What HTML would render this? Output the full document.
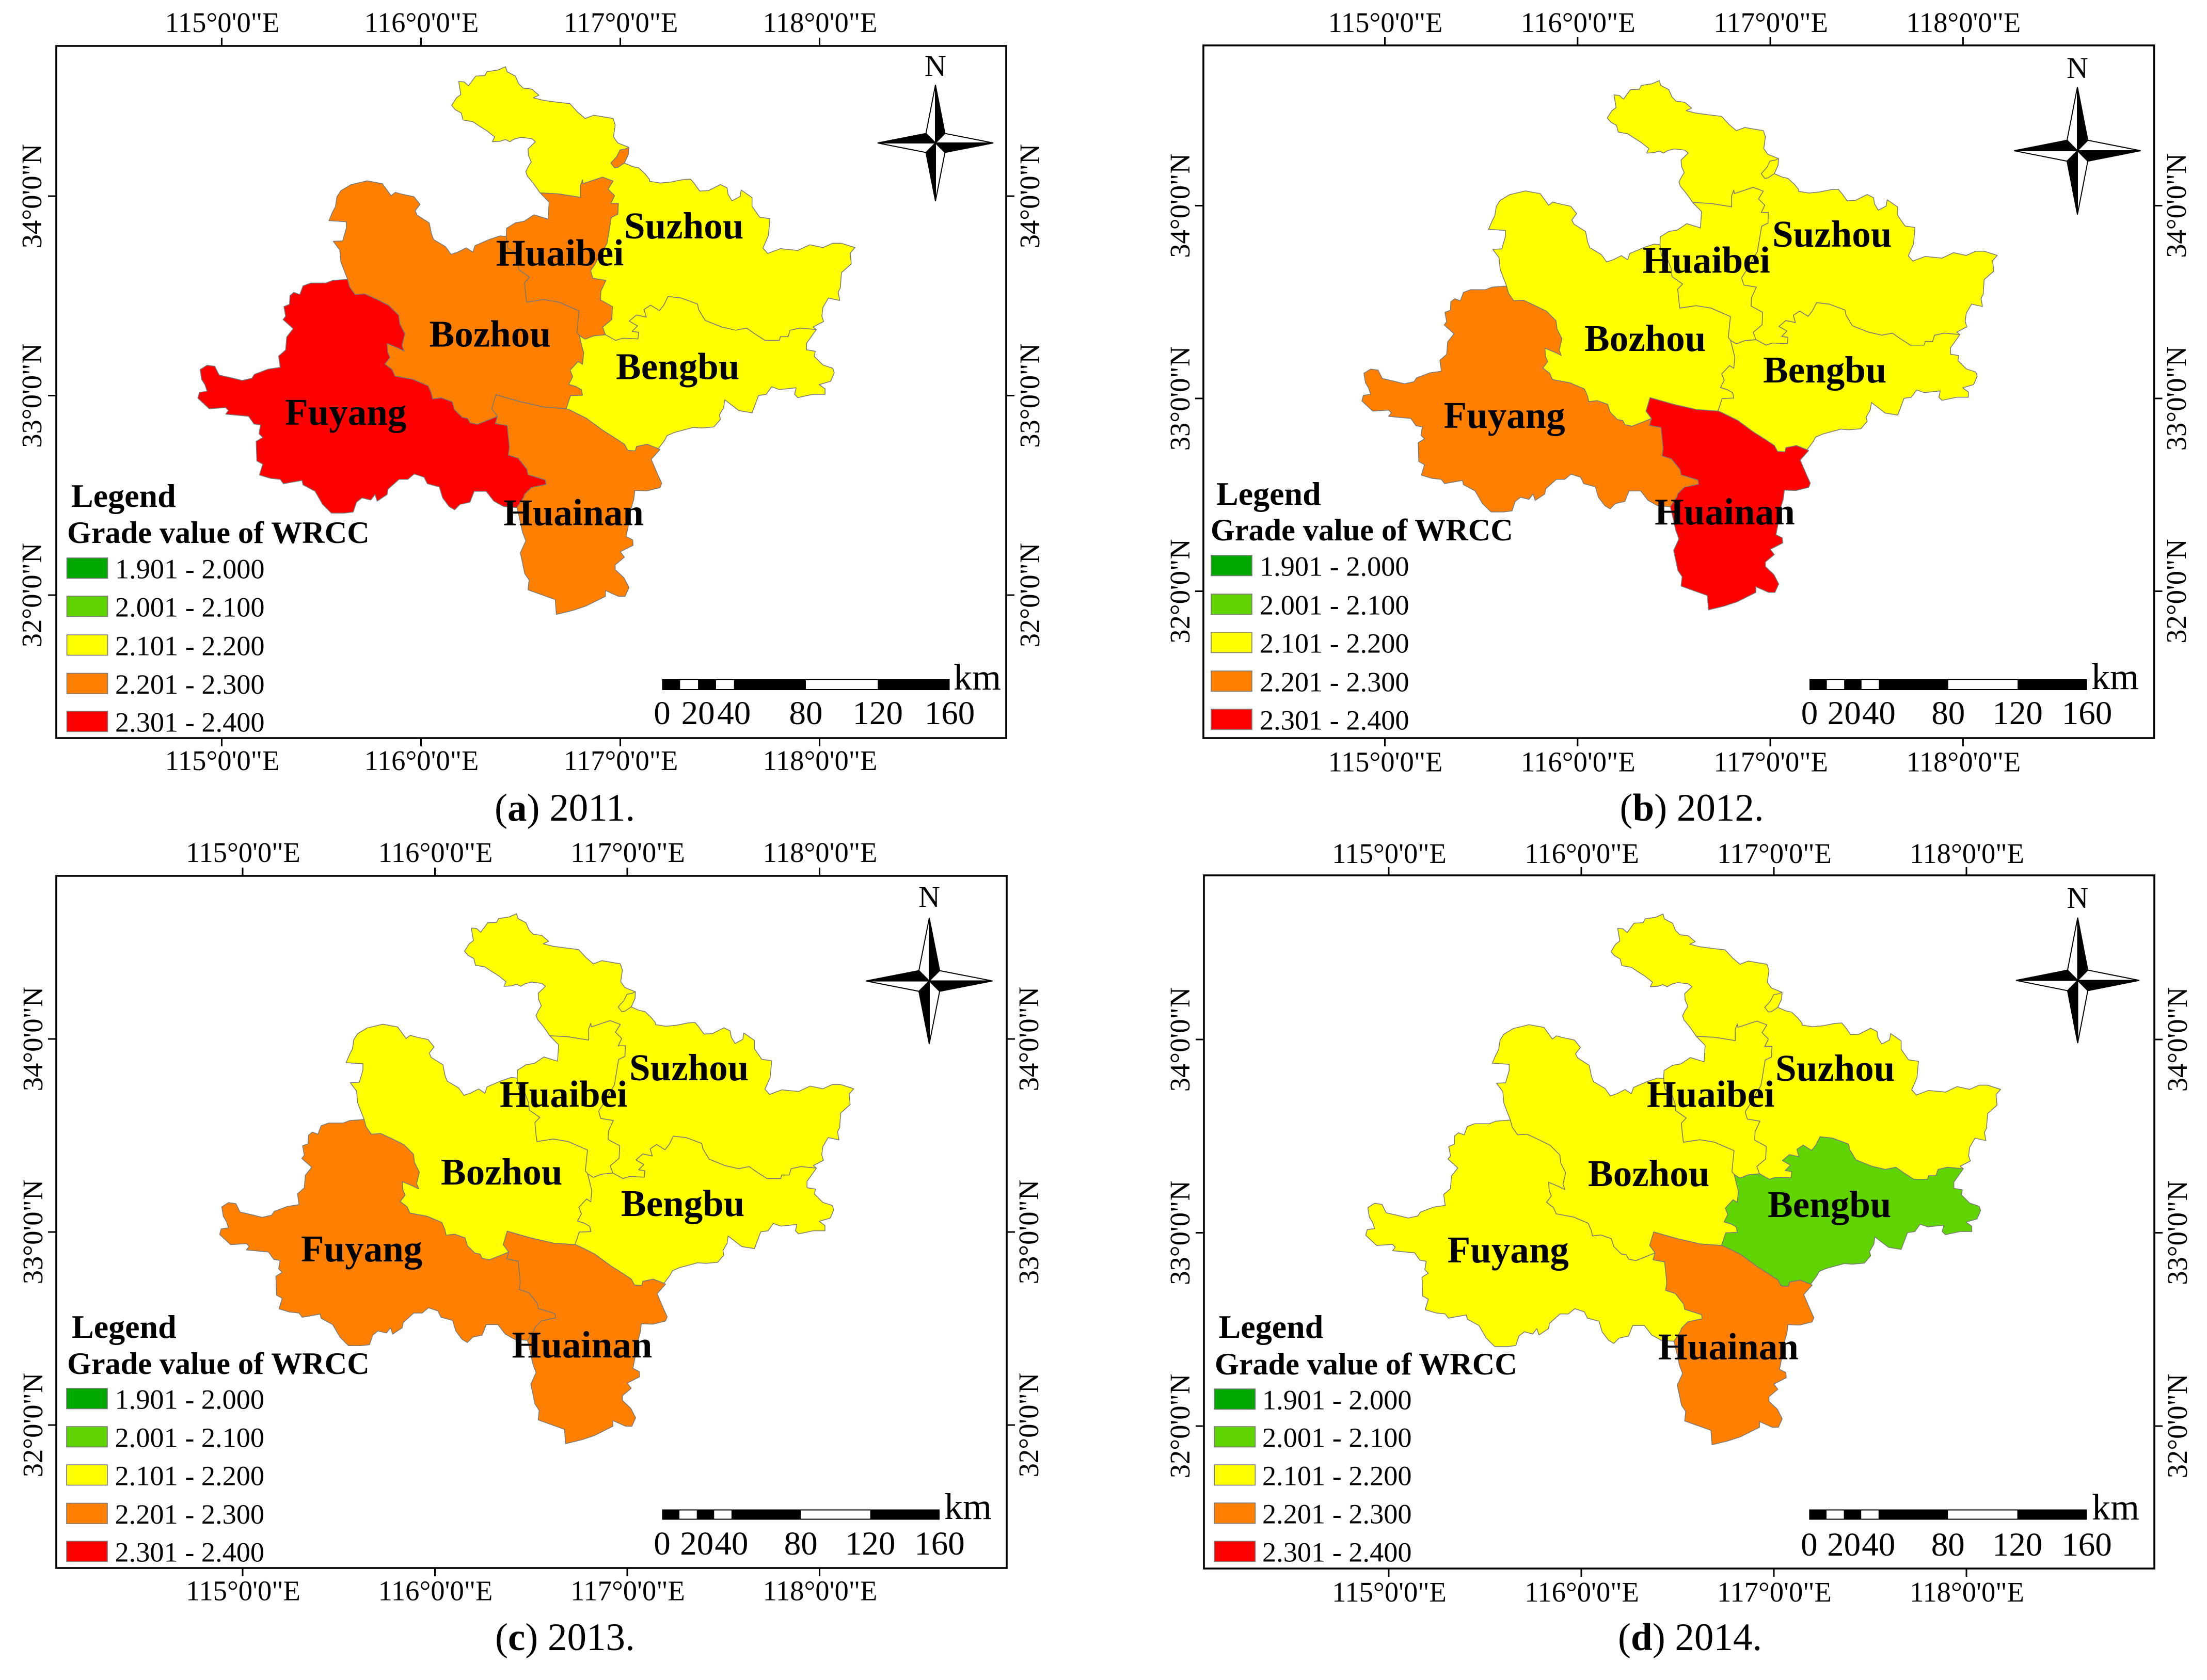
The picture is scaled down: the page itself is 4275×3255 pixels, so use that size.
<!DOCTYPE html>
<html lang="en">
<head>
<meta charset="utf-8">
<title>Grade value of WRCC, 2011-2014</title>
<style>
html,body{margin:0;padding:0;background:#fff;}
svg{display:block;font-family:"Liberation Serif","Times New Roman",serif;}
</style>
</head>
<body>
<svg id="figure" xmlns="http://www.w3.org/2000/svg" width="4275" height="3255" viewBox="0 0 4275 3255"></svg>
<script>
/* ---------- chart data ---------- */
const years = [2011, 2012, 2013, 2014];
const panelLetters = ['a', 'b', 'c', 'd'];
const regionNames = ['Suzhou', 'Huaibei', 'Bozhou', 'Bengbu', 'Fuyang', 'Huainan'];
/* grade value of WRCC per year, same order as regionNames (estimated from the class colours) */
const grades2011 = [2.15, 2.25, 2.25, 2.15, 2.35, 2.25];
const grades2012 = [2.15, 2.15, 2.15, 2.15, 2.25, 2.35];
const grades2013 = [2.15, 2.15, 2.15, 2.15, 2.25, 2.25];
const grades2014 = [2.15, 2.15, 2.15, 2.05, 2.15, 2.25];
const gradesByYear = [grades2011, grades2012, grades2013, grades2014];
const classLower = [1.901, 2.001, 2.101, 2.201, 2.301];
const classUpper = [2.000, 2.100, 2.200, 2.300, 2.400];
const classColors = ['#00A800', '#60D400', '#FFFF00', '#FF8000', '#FF0000'];
const lonTicks = [115, 116, 117, 118];
const latTicks = [32, 33, 34];
const scaleKmLabels = [0, 20, 40, 80, 120, 160];
const scaleWhiteFrom = [10, 30, 80];
const scaleWhiteTo = [20, 40, 120];
const scaleKmMax = 160;

/* ---------- boundary geometry: vertices on four survey sheets, georeferenced to lon/lat ---------- */
const UNIT_LON = 0.00109426, UNIT_LAT = 0.00108988;
const sheetA = {lon:115.4558, lat:34.6782};
const sheetB = {lon:116.5013, lat:34.3578};
const sheetC = {lon:114.8391, lat:33.6101};
const sheetD = {lon:116.3673, lat:33.5033};
function geo(sheet, pts){ return pts.map(p => [sheet.lon + p[0]*UNIT_LON, sheet.lat - p[1]*UNIT_LAT]); }
function rev(a){ return a.slice().reverse(); }

const arcSuzhouOuter = geo(sheetA, [[1043,607],[1028,585],[1010,560],[985,530],[978,510],[990,485],[1003,465],[990,435],[988,405],[1022,372],[1005,358],[955,352],[925,360],[905,372],[885,362],[860,370],[825,372],[835,350],[800,322],[765,300],[735,280],[690,272],[682,240],[655,225],[638,205],[660,170],[680,155],[670,95],[695,97],[715,115],[748,70],[790,68],[800,50],[850,42],[885,27],[892,50],[930,70],[945,105],[965,125],[1005,130],[1038,158],[1012,170],[1060,182],[1120,190],[1180,197],[1215,235],[1250,265],[1290,250],[1378,265],[1388,295],[1380,350],[1400,378],[1450,398],[1448,430],[1430,470],[1470,487],[1495,492],[1525,520],[1545,545]]).concat(
  geo(sheetB, [[590,260],[640,268],[690,263],[745,252],[778,250],[795,270],[820,305],[860,303],[915,275],[945,290],[950,320],[968,350],[1005,330],[1010,300],[1060,335],[1060,375],[1095,425],[1142,432],[1135,510],[1110,567],[1132,592],[1190,570],[1270,578],[1325,552],[1385,565],[1430,545],[1470,545],[1532,565],[1510,590],[1515,640],[1470,680],[1465,750],[1455,770],[1462,808],[1410,797],[1385,840],[1380,880],[1388,905],[1340,930],[1355,942]]));
const arcBengbuSuzhou = geo(sheetB, [[1355,942],[1280,935],[1235,945],[1225,975],[1190,975],[1185,992],[1120,992],[1070,960],[1035,935],[985,945],[920,930],[845,900],[815,850],[810,825],[735,797],[675,790],[655,830],[635,855],[595,830],[565,850],[575,885],[530,875],[497,903],[535,925],[510,950],[540,955],[537,985],[465,982],[435,992],[388,966]]);
const arcHuaibeiSuzhou = geo(sheetA, [[1343,1260],[1330,1225],[1372,1190],[1375,1130],[1320,1100],[1322,1060],[1345,1010],[1285,1000],[1275,965],[1295,935],[1350,840],[1370,720],[1400,705],[1402,655],[1368,655],[1385,620],[1355,590],[1378,553],[1330,535],[1240,565],[1238,548],[1228,575],[1228,628],[1130,612],[1043,607]]);
const arcHuaibeiOuter = geo(sheetA, [[1043,607],[1085,650],[1080,728],[1015,708],[970,738],[930,745],[890,770],[888,808]]);
const arcBozhouHuaibei = geo(sheetA, [[888,808],[895,860],[925,880],[942,925],[945,960],[995,995],[972,1020],[978,1080],[982,1110],[1060,1098],[1130,1110],[1222,1150],[1212,1250],[1225,1265]]);
const arcHuaibeiBengbu = geo(sheetA, [[1225,1265],[1250,1280],[1290,1265],[1343,1260]]);
const arcBozhouOuter = geo(sheetA, [[888,808],[860,805],[810,822],[745,850],[735,880],[705,860],[665,880],[635,890],[610,855],[555,822],[545,795],[535,745],[480,710],[470,690],[493,660],[465,625],[405,612],[380,605],[360,620],[320,565],[250,552],[175,570],[130,597],[112,625],[105,670],[92,695],[75,735],[155,740],[155,770],[138,828],[95,830],[125,870],[130,925],[160,1003]]);
const arcFuyangBozhou = geo(sheetA, [[160,1003],[170,1040],[195,1075],[240,1072],[300,1100],[350,1125],[395,1170],[400,1210],[423,1255],[410,1310],[420,1335],[390,1320],[342,1300],[345,1340],[355,1365],[332,1395],[365,1420],[378,1450],[460,1465],[530,1495],[545,1530],[550,1555],[590,1550],[640,1568]]).concat(
  geo(sheetC, [[1215,625],[1250,660],[1275,665],[1285,685],[1320,692],[1375,670],[1412,655]]));
const arcHuainanBozhou = geo(sheetD, [[15,557],[-11,522],[8,458],[120,490],[230,515],[330,522]]);
const arcBozhouBengbu = geo(sheetD, [[330,522],[350,462],[405,460],[400,435],[375,420],[342,410],[360,375],[348,345],[385,305],[405,318],[410,265],[390,186]]);
const arcFuyangOuter = geo(sheetC, [[723,25],[655,30],[625,42],[555,42],[520,55],[505,95],[478,85],[460,100],[458,140],[432,150],[440,195],[428,210],[475,252],[445,290],[440,350],[408,378],[415,430],[360,438],[297,462],[285,480],[240,490],[200,480],[135,465],[115,425],[80,420],[48,440],[55,485],[70,510],[80,540],[45,545],[38,572],[90,620],[165,615],[178,628],[165,645],[270,655],[295,690],[325,695],[318,735],[335,752],[305,770],[308,860],[335,875],[320,925],[370,940],[415,945],[430,965],[515,950],[520,970],[575,1000],[610,1060],[650,1100],[710,1100],[750,1095],[765,1050],[790,1030],[830,1040],[850,1015],[860,1045],[905,1015],[910,990],[960,945],[1000,945],[1030,920],[1075,935],[1090,965],[1145,980],[1160,1030],[1190,1070],[1215,1085],[1240,1060],[1285,1050],[1305,1000],[1360,1000],[1395,1045],[1440,1070],[1500,1075]]);
const arcFuyangHuainan = geo(sheetD, [[104,977],[135,930],[140,915],[170,885],[238,870],[235,850],[155,825],[150,800],[110,750],[65,735],[70,700],[60,600],[5,590],[15,557]]);
const arcHuainanBengbu = geo(sheetB, [[630,1490],[580,1470],[530,1480],[525,1500],[490,1498],[475,1470],[430,1440],[375,1405],[300,1350],[230,1315],[207,1305]]);
const arcBengbuOuter = geo(sheetB, [[1355,942],[1310,1005],[1310,1035],[1350,1042],[1345,1065],[1385,1105],[1430,1120],[1437,1140],[1420,1180],[1368,1195],[1395,1215],[1395,1240],[1340,1240],[1270,1255],[1255,1240],[1262,1210],[1185,1218],[1150,1205],[1125,1240],[1090,1245],[1060,1325],[1000,1315],[935,1265],[930,1300],[910,1335],[915,1355],[885,1390],[830,1395],[790,1392],[705,1415],[670,1430],[660,1450],[630,1490]]);
const arcHuainanOuter = geo(sheetD, [[752,706],[760,710],[720,755],[750,825],[768,865],[760,885],[700,900],[645,898],[640,940],[625,990],[615,1060],[605,1110],[635,1125],[637,1150],[578,1180],[597,1205],[555,1240],[555,1262],[595,1300],[618,1345],[600,1385],[570,1385],[510,1358],[510,1385],[420,1430],[360,1450],[285,1468],[280,1400],[155,1355],[160,1310],[140,1280],[120,1185],[145,1130],[130,1090],[110,1000],[104,977]]);
const huaibeiExclave = geo(sheetA, [[1450,398],[1448,430],[1430,470],[1400,490],[1385,492],[1368,470],[1395,440],[1410,410],[1435,405]]);

const regionOutlines = [
  arcSuzhouOuter.concat(arcBengbuSuzhou, arcHuaibeiSuzhou),
  rev(arcHuaibeiSuzhou).concat(rev(arcHuaibeiBengbu), rev(arcBozhouHuaibei), rev(arcHuaibeiOuter)),
  arcBozhouOuter.concat(arcFuyangBozhou, arcHuainanBozhou, arcBozhouBengbu, rev(arcBozhouHuaibei)),
  arcBengbuSuzhou.concat(rev(arcHuaibeiBengbu), rev(arcBozhouBengbu), rev(arcHuainanBengbu), rev(arcBengbuOuter)),
  arcFuyangOuter.concat(arcFuyangHuainan, rev(arcFuyangBozhou)),
  arcHuainanBozhou.concat(rev(arcHuainanBengbu), arcHuainanOuter, arcFuyangHuainan)
];

/* ---------- page layout of the four panels ---------- */
const layouts = [
 {frame:[109,89,1949,1430], x115:429.5, kx:386, y33:766.5, ky:386.5, topBase:62, botBase:1492, leftBase:80, rightBase:2013,
  compass:[1812,277,112,112.5], nBase:147,
  label:[[1210,462],[962,514.5],[832.5,671.5],[1194,734.5],[553,823],[976,1017.5]],
  legendX:138, legendBase:982, titleX:131, titleBase:1052, swX:129.5, swW:79, swTops:[1081,1155,1230,1304.5,1378], lblX:223,
  barX:1282.5, barW:557, barY:1316, barH:21, kmX:1848, kmBase:1336, numBase:1403, capX:958, capBase:1590},
 {frame:[2331,88,4172.5,1430], x115:2682.5, kx:373.3, y33:772, ky:373.5, topBase:62, botBase:1494.5, leftBase:2304, rightBase:4234,
  compass:[4024,292,122.5,123.5], nBase:151,
  label:[[3434,478],[3182.5,528.5],[3070,680],[3416,741],[2797.5,829],[3206,1016]],
  legendX:2356, legendBase:978, titleX:2346, titleBase:1047, swX:2346, swW:79, swTops:[1076,1151,1225,1300,1374], lblX:2440,
  barX:3505, barW:537.5, barY:1316, barH:21, kmX:4052, kmBase:1335, numBase:1403, capX:3137.5, capBase:1590},
 {frame:[109,1697,1950,3038], x115:470, kx:372.5, y33:2387, ky:374, topBase:1670, botBase:3100.5, leftBase:82, rightBase:2011,
  compass:[1800,1900.6,122.5,122], nBase:1757,
  label:[[1220,2093],[969,2144.5],[855,2295],[1204,2356],[584,2444],[992.5,2630]],
  legendX:139, legendBase:2592, titleX:131, titleBase:2662, swX:129, swW:79, swTops:[2690,2764,2838,2912.5,2986], lblX:222.5,
  barX:1282.5, barW:537.5, barY:2924.5, barH:20, kmX:1830, kmBase:2943, numBase:3012, capX:959, capBase:3197},
 {frame:[2332,1696,4173,3039], x115:2690, kx:373, y33:2388.5, ky:374.5, topBase:1672, botBase:3103, leftBase:2304, rightBase:4236,
  compass:[4024.5,1899.5,119.5,121.5], nBase:1759,
  label:[[3440,2094],[3191,2144.5],[3077,2298],[3425,2358],[2804.5,2446],[3213,2633.5]],
  legendX:2360.6, legendBase:2592, titleX:2354, titleBase:2663, swX:2352.4, swW:79, swTops:[2691,2764,2838,2912,2986], lblX:2445,
  barX:3504.4, barW:537.6, barY:2924.5, barH:20, kmX:4053, kmBase:2944, numBase:3014, capX:3134, capBase:3197}
];

/* ---------- drawing ---------- */
const NS = 'http://www.w3.org/2000/svg';
const root = document.getElementById('figure');
function mk(tag, attrs, parent, txt){
  const n = document.createElementNS(NS, tag);
  for (const k in attrs) n.setAttribute(k, attrs[k]);
  if (txt !== undefined) n.textContent = txt;
  parent.appendChild(n);
  return n;
}
function classColor(v){
  for (let i = 0; i < classLower.length; i++) if (v >= classLower[i] && v <= classUpper[i]) return classColors[i];
  return '#ffffff';
}
function slug(s){ return s.toLowerCase(); }

years.forEach((year, pi) => {
  const L = layouts[pi];
  const grades = gradesByYear[pi];
  const xScale = lon => L.x115 + (lon - 115) * L.kx;
  const yScale = lat => L.y33 - (lat - 33) * L.ky;
  const toPoints = arr => arr.map(p => xScale(p[0]).toFixed(1) + ',' + yScale(p[1]).toFixed(1)).join(' ');
  const kmScale = km => L.barX + km / scaleKmMax * L.barW;

  const g = mk('g', {}, root);
  
  

  const f = L.frame;
  const frame = mk('rect', {x:f[0], y:f[1], width:f[2]-f[0], height:f[3]-f[1], fill:'#fff', stroke:'#000', 'stroke-width':3.6}, g);
  
  

  /* longitude ticks and labels, top and bottom */
  lonTicks.forEach(v => {
    const x = xScale(v), text = v + '°0\'0"E';
    const tt = mk('line', {x1:x, x2:x, y1:f[1]-16, y2:f[1], stroke:'#000', 'stroke-width':3}, g);
    
    
    const tb = mk('line', {x1:x, x2:x, y1:f[3], y2:f[3]+16, stroke:'#000', 'stroke-width':3}, g);
    
    
    const lt = mk('text', {x:x+1, y:L.topBase, 'text-anchor':'middle', 'font-size':54.6}, g, text);
    
    
    const lb = mk('text', {x:x+1, y:L.botBase, 'text-anchor':'middle', 'font-size':54.6}, g, text);
    
    
  });

  /* latitude ticks and labels, left and right */
  latTicks.forEach(v => {
    const y = yScale(v), text = v + '°0\'0"N';
    const tl = mk('line', {x1:f[0]-16, x2:f[0], y1:y, y2:y, stroke:'#000', 'stroke-width':3}, g);
    
    
    const tr = mk('line', {x1:f[2], x2:f[2]+16, y1:y, y2:y, stroke:'#000', 'stroke-width':3}, g);
    
    
    const ll = mk('text', {x:L.leftBase, y:y, 'text-anchor':'middle', 'font-size':54.6, transform:'rotate(-90 ' + L.leftBase + ' ' + y + ')'}, g, text);
    
    
    const lr = mk('text', {x:L.rightBase, y:y, 'text-anchor':'middle', 'font-size':54.6, transform:'rotate(-90 ' + L.rightBase + ' ' + y + ')'}, g, text);
    
    
  });

  /* choropleth regions */
  regionNames.forEach((name, ri) => {
    const poly = mk('polygon', {points:toPoints(regionOutlines[ri]), fill:classColor(grades[ri]), stroke:'#777777', 'stroke-width':1.5, 'stroke-linejoin':'round'}, g);
    
    
  });
  const hbIndex = regionNames.indexOf('Huaibei');
  const ex = mk('polygon', {points:toPoints(huaibeiExclave), fill:classColor(grades[hbIndex]), stroke:'#777777', 'stroke-width':1.5, 'stroke-linejoin':'round'}, g);
  
  

  regionNames.forEach((name, ri) => {
    const t = mk('text', {x:L.label[ri][0]-1, y:L.label[ri][1], 'font-size':73, 'font-weight':'bold'}, g, name);
    
    
  });

  /* north arrow */
  const [cx, cy, rx, ry] = L.compass;
  const ix = rx * 0.164, iy = ry * 0.164;
  const compass = mk('g', {stroke:'#000', 'stroke-width':2, 'stroke-linejoin':'miter'}, g);
  
  
  const blades = [
    [[0,-ry],[ix,-iy],'#000'], [[0,-ry],[-ix,-iy],'#fff'],
    [[rx,0],[ix,-iy],'#fff'], [[rx,0],[ix,iy],'#000'],
    [[0,ry],[ix,iy],'#fff'], [[0,ry],[-ix,iy],'#000'],
    [[-rx,0],[-ix,-iy],'#000'], [[-rx,0],[-ix,iy],'#fff']
  ];
  blades.forEach(b => {
    const pts = [cx+b[0][0],cy+b[0][1]].join(',') + ' ' + [cx+b[1][0],cy+b[1][1]].join(',') + ' ' + cx + ',' + cy;
    const blade = mk('polygon', {points:pts, fill:b[2]}, compass);
    
    
  });
  const nLabel = mk('text', {x:cx, y:L.nBase, 'text-anchor':'middle', 'font-size':58}, g, 'N');
  
  

  /* legend */
  const lg = mk('text', {x:L.legendX, y:L.legendBase, 'font-size':64, 'font-weight':'bold'}, g, 'Legend');
  
  
  const lt = mk('text', {x:L.titleX-1, y:L.titleBase, 'font-size':60.2, 'font-weight':'bold'}, g, 'Grade value of WRCC');
  
  
  classLower.forEach((low, ci) => {
    const top = L.swTops[ci];
    const sw = mk('rect', {x:L.swX, y:top, width:L.swW, height:39.5, fill:classColors[ci], stroke:'#7a7a7a', 'stroke-width':1.6}, g);
    
    
    const txt = mk('text', {x:L.lblX, y:top+39.5, 'font-size':54.3}, g, low.toFixed(3) + ' - ' + classUpper[ci].toFixed(3));
    
    
  });

  /* scale bar */
  const bar = mk('rect', {x:L.barX, y:L.barY, width:L.barW, height:L.barH, fill:'#000'}, g);
  
  
  scaleWhiteFrom.forEach((from, i) => {
    const seg = mk('rect', {x:kmScale(from), y:L.barY+2, width:kmScale(scaleWhiteTo[i])-kmScale(from), height:L.barH-4, fill:'#fff'}, g);
    
    
  });
  scaleKmLabels.forEach(km => {
    const t = mk('text', {x:kmScale(km), y:L.numBase, 'text-anchor':'middle', 'font-size':65}, g, String(km));
    
    
  });
  const kmT = mk('text', {x:L.kmX-1, y:L.kmBase, 'font-size':72}, g, 'km');
  
  

  /* caption */
  const cap = mk('text', {x:L.capX, y:L.capBase, 'font-size':75}, g);
  
  
  mk('tspan', {}, cap, '(');
  mk('tspan', {'font-weight':'bold'}, cap, panelLetters[pi]);
  mk('tspan', {}, cap, ') ' + year + '.');
});
</script>
</body>
</html>
